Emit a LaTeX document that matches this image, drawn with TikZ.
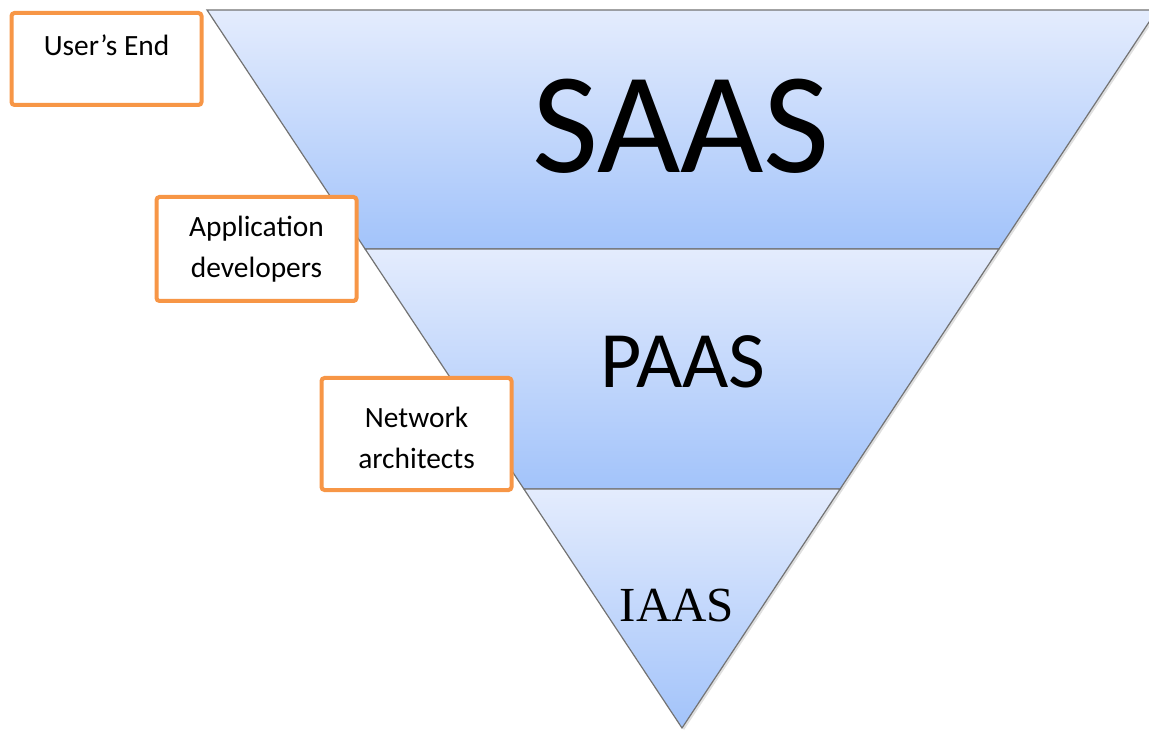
\documentclass[tikz,border=0pt]{standalone}
\usepackage{fontspec}
\setmainfont{Carlito}
\newfontfamily\serifcap{Liberation Serif}
\usetikzlibrary{shadows,calc}
\definecolor{bandtop}{HTML}{E4ECFD}
\definecolor{bandbot}{HTML}{A2C3FA}
\definecolor{boxorange}{HTML}{F79646}
\begin{document}
\begin{tikzpicture}[x=0.5pt,y=-0.5pt,
		band/.style={draw=black!55,line width=0.6pt,top color=bandtop,bottom color=bandbot,
			drop shadow={shadow xshift=1pt,shadow yshift=-1pt,opacity=0.25}},
		rolebox/.style={draw=boxorange,line width=2pt,rounded corners=1.5pt,fill=white,inner sep=0pt},
		roletext/.style={align=center,font=\fontsize{14.7}{20.3}\selectfont,inner sep=0pt}]
		\useasboundingbox (0,0) rectangle (1149,731);
		\clip (0,0) rectangle (1149,731);
		% layers of the inverted pyramid
		\coordinate (tl) at (207,10);
		\coordinate (tr) at (1157,10);
		\coordinate (apex) at (682,728);
		\path[band] (tl) -- (tr) -- ($(tr)!0.333!(apex)$) -- ($(tl)!0.333!(apex)$) -- cycle;
		\path[band] ($(tl)!0.333!(apex)$) -- ($(tr)!0.333!(apex)$) -- ($(tr)!0.667!(apex)$) -- ($(tl)!0.667!(apex)$) -- cycle;
		\path[band] ($(tl)!0.667!(apex)$) -- ($(tr)!0.667!(apex)$) -- (apex) -- cycle;
		\node[inner sep=0pt,font=\fontsize{72}{72}\selectfont] (saas) at (681,126) {SAAS};
		\node[inner sep=0pt,font=\fontsize{40}{40}\selectfont] (paas) at (683,362) {PAAS};
		\node[inner sep=0pt,font=\serifcap\fontsize{24.5}{24.5}\selectfont] (iaas) at (677,606) {IAAS};
		% who works on each layer
		\node[rolebox,minimum width=95pt,minimum height=46pt] (user) at (106.5,59) {};
		\node[rolebox,minimum width=100pt,minimum height=52pt] (appdev) at (256.5,249) {};
		\node[rolebox,minimum width=95pt,minimum height=56pt] (netarch) at (416.5,434) {};
		\node[roletext] (usertext) at (106.5,45) {User’s End};
		\node[roletext] (appdevtext) at (appdev.center) {Application\\developers};
		\node[roletext] (netarchtext) at (416.5,438) {Network\\architects};
	\end{tikzpicture}
\end{document}
